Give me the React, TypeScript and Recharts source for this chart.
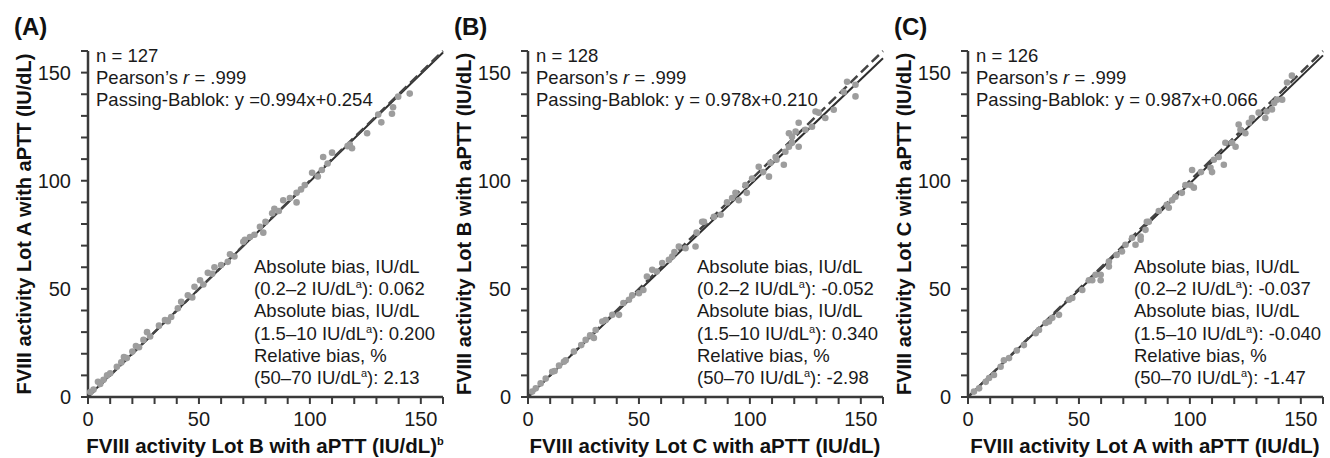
import { ReferenceLine, Scatter, ScatterChart, XAxis, YAxis } from "recharts";

const FONT = "Arial, 'Liberation Sans', Helvetica, sans-serif";

// axis ticks every 10, labels only on the 50s
const axisTicks = [0, 10, 20, 30, 40, 50, 60, 70, 80, 90, 100, 110, 120, 130, 140, 150, 160];
const labelledTicks = [0, 50, 100, 150];

// (A) Lot B (x) vs Lot A (y)
const lotBx = [1, 2.5, 4.5, 5.5, 7, 8.6, 10, 13, 15, 16.2, 17.5, 20, 21.6, 23, 25, 26.6, 28, 32, 34.7, 36, 37.5, 40.5, 42, 45, 47, 48, 50.5, 52, 54, 56, 57, 60, 63, 64, 66, 70, 70.7, 73, 75, 77.5, 79, 80, 83, 84, 86, 88, 91, 94, 94, 96, 97.7, 101, 103.6, 105.4, 106, 108, 110, 117, 118, 119, 125.8, 130.8, 132.2, 137, 137.5, 139.8, 145];
const lotAy = [2.3, 3.5, 7, 6, 8, 10, 11, 14, 16, 18.5, 18, 21, 23.6, 23, 26.4, 30, 28, 33, 35.6, 35, 37, 41, 44, 47, 46, 51, 54, 52, 57.4, 57, 60, 61, 62.5, 66, 65, 71.8, 72.7, 74, 75, 78.7, 76, 81, 85, 87, 86, 91, 92, 94.4, 90, 96, 98, 103.7, 102, 105, 111, 108, 113, 116, 116.7, 115, 122, 130.6, 127, 131, 134, 138.9, 140.3];

// (B) Lot C (x) vs Lot B (y)
const lotCx = [1.9, 3.5, 5.7, 8, 10.9, 12, 14, 16.2, 17, 20.7, 24, 26, 28, 29, 29.7, 30.5, 33.5, 35, 38, 41, 43, 45.5, 47, 50, 52, 53.6, 56, 58, 60.5, 63.5, 65, 66, 68, 71, 75.5, 76, 78.5, 79.3, 83.8, 86.8, 89.7, 92, 93.5, 95, 98, 98.6, 101, 104, 106, 108.6, 109.3, 111.6, 112, 115.3, 116, 117.6, 119, 119, 117.6, 120.6, 122, 122, 125, 128, 129.6, 131, 134, 137.8, 142.3, 143.8, 147.6, 147.6];
const lotBy = [2.5, 4, 6.3, 8.5, 11.7, 12, 14.5, 16.3, 17, 21, 24, 26.4, 28.5, 28, 27.3, 31, 34.9, 35.6, 38, 38, 43.5, 45, 47, 48, 49.5, 55.7, 58.8, 58, 62, 63.4, 65, 67, 69.6, 68.8, 69.6, 76, 81, 81, 83.3, 84.3, 90, 92, 94.4, 91, 98, 94.4, 101, 106.5, 104, 101.9, 108.3, 111, 109.7, 107.4, 113.4, 115.7, 117.6, 120.4, 122, 122.7, 115.7, 126.8, 123.6, 125, 132, 131.5, 129, 132.8, 141, 145.8, 139, 144.4];

// (C) Lot A (x) vs Lot C (y)
const lotAx = [2.7, 5, 8, 9.5, 11.7, 14.7, 16.2, 18.5, 22, 25.2, 30.5, 32, 35, 36.5, 38, 41, 45.5, 47, 51.5, 54.5, 56, 57.5, 59.8, 59.8, 63.5, 63.5, 67, 69.4, 71, 74, 75.5, 77.8, 77.8, 80, 81.5, 80.6, 86, 89.6, 90.5, 92, 93.5, 96.4, 98, 100.3, 101.8, 101, 105, 109.3, 110, 110.8, 113, 115.3, 116, 119, 120.6, 122, 122.8, 125, 126.6, 128, 131, 134, 134.6, 137, 138, 139.3, 141.6, 143.8, 146];
const lotCy = [2.5, 4, 7, 8.8, 10.2, 14, 17, 18, 21.5, 24, 29.5, 31, 34.2, 34.9, 36.6, 38, 45, 45.8, 49.5, 54, 54, 56.5, 56.5, 54, 60.3, 62.6, 65.7, 67.3, 70.4, 73.6, 70.4, 72.7, 74.2, 77.3, 81, 81, 86, 88.9, 87.5, 91, 92.6, 94.4, 98, 98, 96.8, 105, 104, 106, 104, 109.7, 111, 107.4, 117.6, 117.6, 115.7, 126, 123.6, 122, 126.8, 129, 131.5, 129, 132, 133, 136, 137.5, 137.5, 145.4, 148.6];

const panelLetters = ["(A)", "(B)", "(C)"];
const sampleCounts = [127, 128, 126];
const pearsonR = [".999", ".999", ".999"];
const fitSlopes = [0.994, 0.978, 0.987];
const fitIntercepts = [0.254, 0.21, 0.066];
const fitTexts = ["y =0.994x+0.254", "y = 0.978x+0.210", "y = 0.987x+0.066"];
const lowBias = ["0.062", "-0.052", "-0.037"];
const midBias = ["0.200", "0.340", "-0.040"];
const relBias = ["2.13", "-2.98", "-1.47"];
const xLabels = ["FVIII activity Lot B with aPTT (IU/dL)", "FVIII activity Lot C with aPTT (IU/dL)", "FVIII activity Lot A with aPTT (IU/dL)"];
const yLabels = ["FVIII activity Lot A with aPTT (IU/dL)", "FVIII activity Lot B with aPTT (IU/dL)", "FVIII activity Lot C with aPTT (IU/dL)"];
const xLabelNotes = ["b", "", ""];

const panelLefts = [0, 440, 880];
const biasLeft = [254, 257, 254];

const panels = [
  { xs: lotBx, ys: lotAy },
  { xs: lotCx, ys: lotBy },
  { xs: lotAx, ys: lotCy },
];

const AXIS = "#3a3a3a";
const TEXT = "#1a1a1a";

function XTick(props: any) {
  const { x, y, payload } = props;
  if (!labelledTicks.includes(payload.value)) return <g />;
  return (
    <text x={x} y={y} dy="0.71em" textAnchor="middle" fontSize={20} fontFamily={FONT} fill={TEXT}>
      {payload.value}
    </text>
  );
}

function YTick(props: any) {
  const { x, y, payload } = props;
  if (!labelledTicks.includes(payload.value)) return <g />;
  return (
    <text x={x} y={y} dy="0.35em" textAnchor="end" fontSize={20} fontFamily={FONT} fill={TEXT}>
      {payload.value}
    </text>
  );
}

function Dot(props: any) {
  return <circle cx={props.cx} cy={props.cy} r={3.3} fill="#9d9d9d" />;
}

function Panel({ i }: { i: number }) {
  const data = panels[i].xs.map((x, k) => ({ x, y: panels[i].ys[k] }));
  const fitEnd = fitIntercepts[i] + fitSlopes[i] * 160;
  const lineY = (k: number) => 273 + 22.2 * k;
  return (
    <div style={{ position: "absolute", left: panelLefts[i], top: 0, width: 446, height: 458 }}>
      <ScatterChart width={446} height={458} margin={{ top: 51, right: 3, bottom: 31, left: 28 }}>
        <XAxis
          type="number"
          dataKey="x"
          domain={[0, 160]}
          ticks={axisTicks}
          interval={0}
          height={30}
          tickSize={7}
          tickMargin={8}
          axisLine={{ stroke: AXIS, strokeWidth: 2.5 }}
          tickLine={{ stroke: AXIS, strokeWidth: 2 }}
          tick={XTick}
        />
        <YAxis
          type="number"
          dataKey="y"
          domain={[0, 160]}
          ticks={axisTicks}
          interval={0}
          width={60}
          tickSize={7}
          tickMargin={10}
          axisLine={{ stroke: AXIS, strokeWidth: 2.5 }}
          tickLine={{ stroke: AXIS, strokeWidth: 2 }}
          tick={YTick}
        />
        <Scatter data={data} shape={Dot} isAnimationActive={false} />
        <ReferenceLine
          segment={[{ x: 0, y: fitIntercepts[i] }, { x: 160, y: fitEnd }]}
          stroke="#2e2e2e"
          strokeWidth={2}
          ifOverflow="visible"
        />
        <ReferenceLine
          segment={[{ x: 0, y: 0 }, { x: 160, y: 160 }]}
          stroke="#444"
          strokeWidth={2.5}
          strokeDasharray="10 5"
          ifOverflow="visible"
        />
      </ScatterChart>
      <svg
        width={446}
        height={458}
        style={{ position: "absolute", left: 0, top: 0, pointerEvents: "none" }}
        fontFamily={FONT}
      >
        <text x={14} y={35} fontSize={24} fontWeight="bold" fill="#111">
          {panelLetters[i]}
        </text>
        <text
          transform="translate(24,224) rotate(-90)"
          textAnchor="middle"
          dy="0.35em"
          fontSize={20}
          fontWeight="bold"
          fill="#111"
        >
          {yLabels[i]}
        </text>
        <text x={265} y={453} textAnchor="middle" fontSize={20.5} fontWeight="bold" fill="#111">
          {xLabels[i]}
          {xLabelNotes[i] && (
            <tspan fontSize={11} dy={-8}>
              {xLabelNotes[i]}
            </tspan>
          )}
        </text>
        <g fontSize={18.5} fill={TEXT}>
          <text x={96} y={62}>n = {sampleCounts[i]}</text>
          <text x={96} y={84}>
            Pearson’s <tspan fontStyle="italic">r</tspan> = {pearsonR[i]}
          </text>
          <text x={96} y={106}>Passing-Bablok: {fitTexts[i]}</text>
          <text x={biasLeft[i]} y={lineY(0)}>Absolute bias, IU/dL</text>
          <text x={biasLeft[i]} y={lineY(1)}>
            (0.2–2 IU/dL<tspan fontSize={11} dy={-7}>a</tspan>
            <tspan dy={7}>): {lowBias[i]}</tspan>
          </text>
          <text x={biasLeft[i]} y={lineY(2)}>Absolute bias, IU/dL</text>
          <text x={biasLeft[i]} y={lineY(3)}>
            (1.5–10 IU/dL<tspan fontSize={11} dy={-7}>a</tspan>
            <tspan dy={7}>): {midBias[i]}</tspan>
          </text>
          <text x={biasLeft[i]} y={lineY(4)}>Relative bias, %</text>
          <text x={biasLeft[i]} y={lineY(5)}>
            (50–70 IU/dL<tspan fontSize={11} dy={-7}>a</tspan>
            <tspan dy={7}>): {relBias[i]}</tspan>
          </text>
        </g>
      </svg>
    </div>
  );
}

export default function App() {
  return (
    <div style={{ position: "absolute", left: 0, top: 0, width: 1330, height: 458, background: "#fff", overflow: "hidden" }}>
      <Panel i={0} />
      <Panel i={1} />
      <Panel i={2} />
    </div>
  );
}
